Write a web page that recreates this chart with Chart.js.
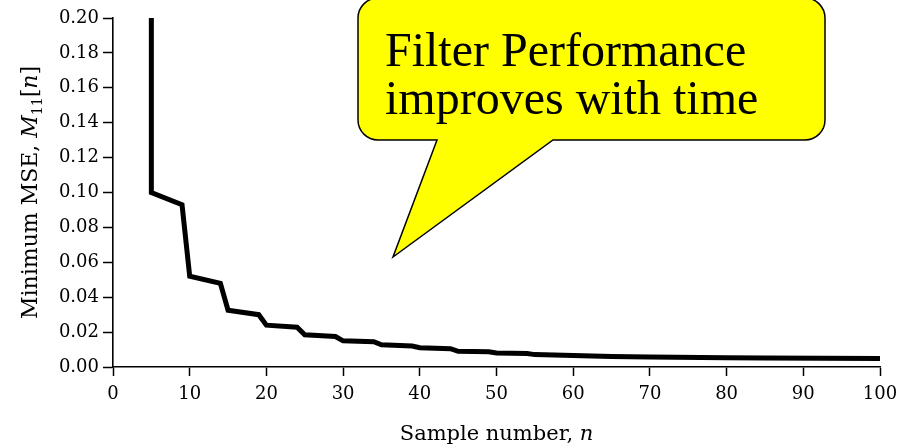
<!DOCTYPE html>
<html>
<head>
<meta charset="utf-8">
<script src="https://cdn.jsdelivr.net/npm/chart.js@4.4.1/dist/chart.umd.min.js"></script>
<style>
  html, body { margin: 0; padding: 0; background: #fff; }
  #wrap { width: 912px; height: 446px; position: relative; }
</style>
</head>
<body>
<div id="wrap"><canvas id="c" width="912" height="446"></canvas></div>
<script>
// corners of the MSE curve
const sampleN = [5, 5, 9, 10, 14, 15, 19, 20, 24, 25, 29, 30, 34, 35, 39, 40, 44, 45, 49, 50, 54, 55, 60, 65, 70, 80, 85, 100];
const mse     = [0.200, 0.100, 0.093, 0.052, 0.048, 0.0325, 0.030, 0.024, 0.0228, 0.0185, 0.0175, 0.015, 0.0145, 0.0127,
                 0.012, 0.011, 0.0105, 0.009, 0.0087, 0.008, 0.0077, 0.0071, 0.0066, 0.006, 0.0057, 0.0053, 0.0051, 0.0049];
const xTicks = [0, 10, 20, 30, 40, 50, 60, 70, 80, 90, 100];
const yTicks = [0, 0.02, 0.04, 0.06, 0.08, 0.10, 0.12, 0.14, 0.16, 0.18, 0.20];
const calloutLines = ['Filter Performance', 'improves with time'];

const serif = '"DejaVu Serif", serif';

// draw a run of differently styled pieces of text
function drawRuns(ctx, runs, x, y) {
  let total = 0;
  runs.forEach(r => { ctx.font = r.font; total += ctx.measureText(r.text).width; });
  let cx = x - total / 2;
  runs.forEach(r => {
    ctx.font = r.font;
    ctx.fillText(r.text, cx, y + (r.dy || 0));
    cx += ctx.measureText(r.text).width;
  });
}

const extras = {
  id: 'extras',
  afterDraw(chart) {
    const { ctx, chartArea: a } = chart;
    ctx.save();
    ctx.fillStyle = '#000';
    ctx.textBaseline = 'alphabetic';
    // x title
    drawRuns(ctx, [
      { text: 'Sample number, ', font: '21px ' + serif },
      { text: 'n', font: 'italic 21px ' + serif }
    ], (a.left + a.right) / 2, 440);
    // y title, rotated
    ctx.translate(37, (a.top + a.bottom) / 2);
    ctx.rotate(-Math.PI / 2);
    drawRuns(ctx, [
      { text: 'Minimum MSE, ', font: '22px ' + serif },
      { text: 'M', font: 'italic 22px ' + serif },
      { text: '11', font: '14px ' + serif, dy: 5 },
      { text: '[', font: '22px ' + serif },
      { text: 'n', font: 'italic 22px ' + serif },
      { text: ']', font: '22px ' + serif }
    ], 0, 0);
    ctx.restore();

    // speech bubble
    ctx.save();
    const L = 358, R = 825, T = -2, B = 140, r = 20;
    ctx.beginPath();
    ctx.moveTo(L + r, T);
    ctx.lineTo(R - r, T);
    ctx.arcTo(R, T, R, T + r, r);
    ctx.lineTo(R, B - r);
    ctx.arcTo(R, B, R - r, B, r);
    ctx.lineTo(553, B);
    ctx.lineTo(393, 257);
    ctx.lineTo(437, B);
    ctx.lineTo(L + r, B);
    ctx.arcTo(L, B, L, B - r, r);
    ctx.lineTo(L, T + r);
    ctx.arcTo(L, T, L + r, T, r);
    ctx.closePath();
    ctx.fillStyle = '#ffff00';
    ctx.fill();
    ctx.lineWidth = 1.5;
    ctx.strokeStyle = '#000';
    ctx.stroke();
    ctx.fillStyle = '#000';
    ctx.font = '48px "Liberation Serif", "Times New Roman", serif';
    ctx.textAlign = 'left';
    ctx.fillText(calloutLines[0], 385, 66);
    ctx.fillText(calloutLines[1], 385, 114);
    ctx.restore();
  }
};

new Chart(document.getElementById('c'), {
  type: 'line',
  data: {
    datasets: [{
      data: sampleN.map((n, i) => ({ x: n, y: mse[i] })),
      borderColor: '#000',
      borderWidth: 5,
      pointRadius: 0,
      tension: 0,
      fill: false
    }]
  },
  options: {
    responsive: false,
    animation: false,
    layout: { padding: { top: 18, right: 32, bottom: 0, left: 0 } },
    plugins: { legend: { display: false }, tooltip: { enabled: false } },
    scales: {
      x: {
        type: 'linear',
        min: 0, max: 100,
        afterBuildTicks: s => { s.ticks = xTicks.map(v => ({ value: v })); },
        afterFit: s => { s.height = 79; },
        grid: { drawOnChartArea: false, tickLength: 9, tickColor: '#000', tickWidth: 1.5 },
        border: { display: true, color: '#000', width: 1.6 },
        ticks: { color: '#000', padding: 8, font: { family: serif, size: 18 }, maxRotation: 0 }
      },
      y: {
        min: 0, max: 0.2,
        afterBuildTicks: s => { s.ticks = yTicks.map(v => ({ value: v })); },
        afterFit: s => { s.width = 113; },
        grid: { drawOnChartArea: false, tickLength: 10, tickColor: '#000', tickWidth: 1.5 },
        border: { display: true, color: '#000', width: 1.6 },
        ticks: { color: '#000', padding: 4, font: { family: serif, size: 18 }, callback: v => v.toFixed(2) }
      }
    }
  },
  plugins: [extras]
});
</script>
</body>
</html>
